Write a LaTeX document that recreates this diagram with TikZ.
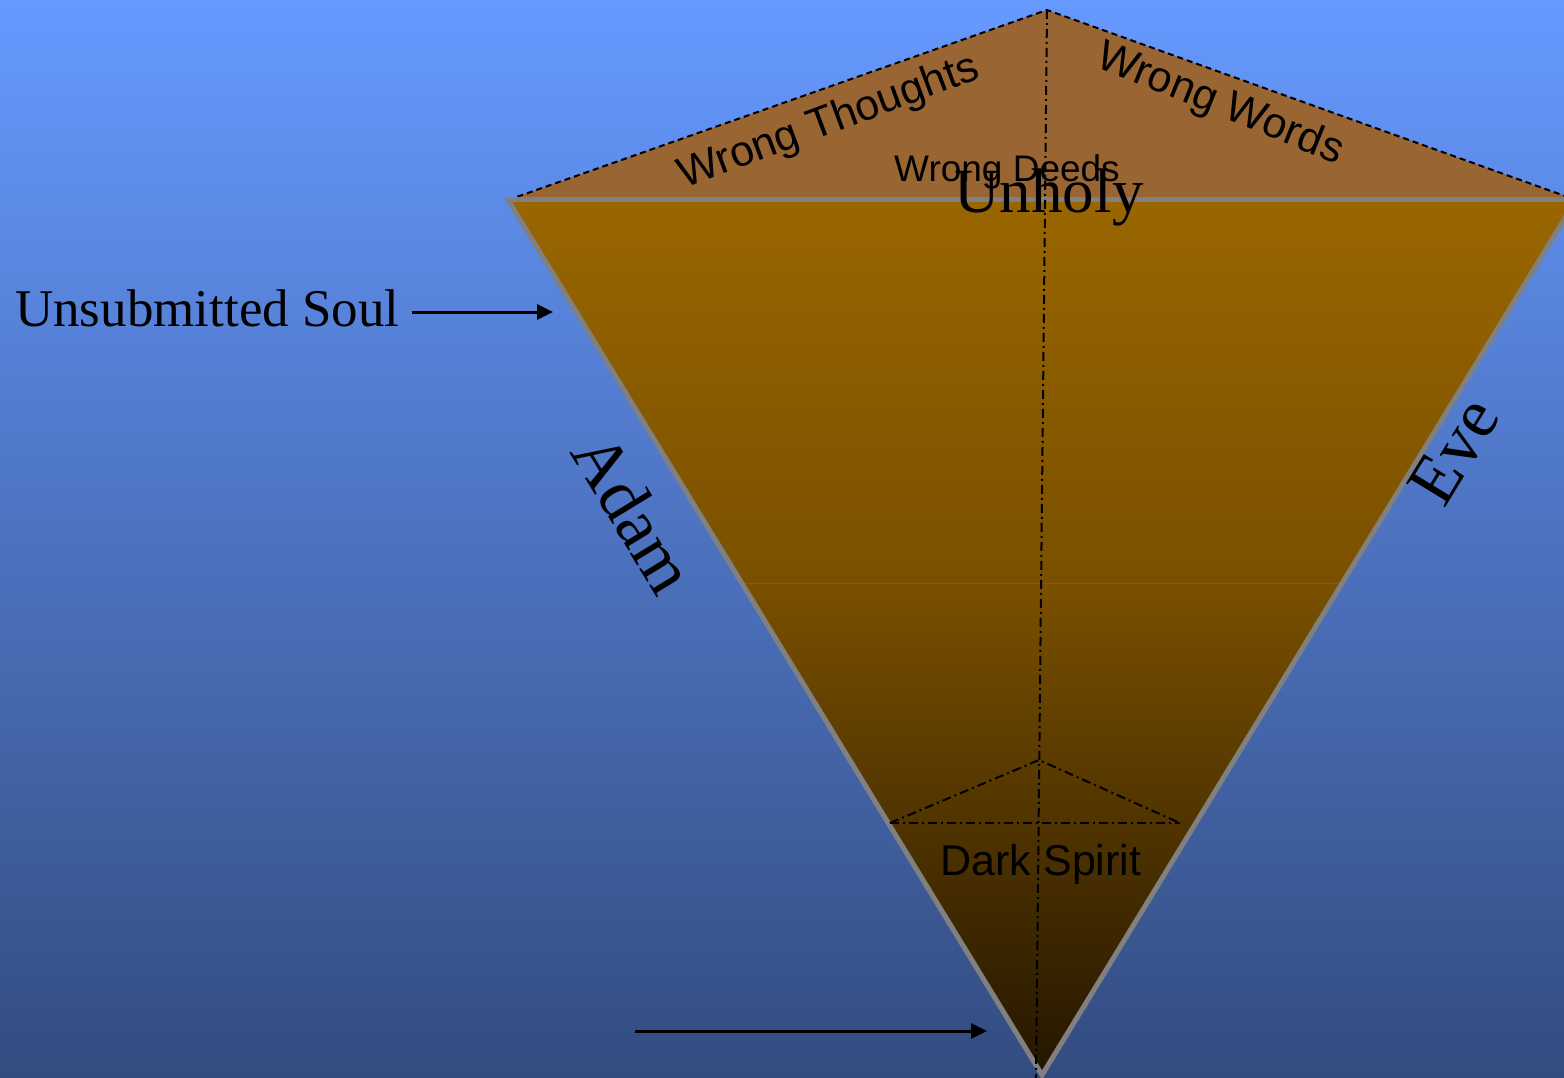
\documentclass[tikz,border=0pt]{standalone}
\usepackage{fontspec}
\setmainfont{Liberation Serif}
\newfontfamily\arialfont{Liberation Sans}
\usetikzlibrary{arrows.meta, calc}
\definecolor{skytop}{RGB}{102,153,255}
\definecolor{skybottom}{RGB}{51,76,128}
\definecolor{soultop}{RGB}{153,102,0}
\definecolor{soulmid}{RGB}{122,80,0}
\definecolor{soulbottom}{RGB}{36,22,0}
\definecolor{faceclr}{RGB}{153,102,51}
\tikzset{
  % Shape styles
  edgeline/.style={draw=gray, line width=5pt},
  facedash/.style={draw=black, line width=2pt, dash pattern=on 6pt off 4pt},
  dashdot/.style={draw=black, line width=2pt, dash pattern=on 9pt off 4pt on 2pt off 4pt},
  % Label styles
  sanslabel/.style={font=\arialfont\fontsize{#1}{#1}\selectfont, inner sep=0pt},
  seriflabel/.style={font=\fontsize{#1}{#1}\selectfont, inner sep=0pt},
  arrow/.style={-{Triangle[length=16pt, width=15pt]}, line width=3pt},
}

\begin{document}
\begin{tikzpicture}[x=1pt, y=-1pt]
    \clip (0,0) rectangle (1564,1078);
    % Background
    \shade[top color=skytop, bottom color=skybottom] (0,0) rectangle (1564,1078);

    % Corners
    \coordinate (tl) at (508,200);
    \coordinate (tr) at (1576,200);
    \coordinate (tip) at (1042,1075);
    \coordinate (peak) at (1047,10);
    \coordinate (ml) at (742,583);
    \coordinate (mr) at (1342,583);
    \coordinate (dpeak) at (1039,760);
    \coordinate (dl) at (890,823);
    \coordinate (dr) at (1180,823);
    \coordinate (axisend) at (1036,1078);

    % Top face
    \fill[faceclr] (tl) -- (peak) -- (tr) -- cycle;
    \draw[facedash] (tl) -- (peak) -- (tr);

    % Soul body
    \shade[top color=soultop, bottom color=soulmid] (tl) -- (tr) -- (mr) -- (ml) -- cycle;
    \shade[top color=soulmid, bottom color=soulbottom] (ml) -- (mr) -- (tip) -- cycle;
    \draw[soulmid!70!gray, line width=0.6pt] (ml) -- (mr);
    \draw[edgeline, line join=miter] (tl) -- (tip) -- (tr);
    \draw[edgeline] ($(tl)+(-3,0)$) -- (tr);

    % Spirit face and axis
    \draw[dashdot] (dl) -- (dpeak) -- (dr);
    \draw[dashdot] (dl) -- (dr);
    \draw[dashdot] (peak) -- (axisend);

    % Labels
    \node[sanslabel=43, rotate=20.5] (thoughts) at (829,123) {Wrong Thoughts};
    \node[sanslabel=43, rotate=-22] (words) at (1220,105) {Wrong Words};
    \node[sanslabel=37, anchor=base] (deeds) at (1007,182) {Wrong Deeds};
    \node[seriflabel=63, anchor=base] (unholy) at (1049,213) {Unholy};
    \node[sanslabel=43, anchor=base] (spirit) at (1041,875) {Dark Spirit};
    \node[seriflabel=70, rotate=-58.6] (adam) at (634,513) {Adam};
    \node[seriflabel=70, rotate=58.6] (eve) at (1454,451) {Eve};
    \node[seriflabel=53, anchor=base west] (soul) at (15,326) {Unsubmitted Soul};

    % Arrows
    \coordinate (soulend) at (553,312);
    \draw[arrow, shorten <=12pt] (soul.east |- soulend) -- (soulend);
    \coordinate (lowstart) at (635,1031);
    \coordinate (lowend) at (987,1031);
    \draw[arrow] (lowstart) -- (lowend);
\end{tikzpicture}
\end{document}
